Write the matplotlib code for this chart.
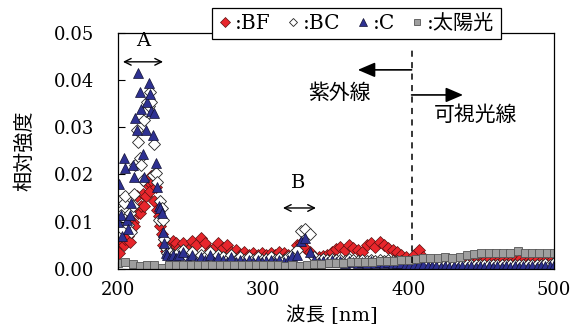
import numpy as np
import matplotlib
matplotlib.use("Agg")
import matplotlib.pyplot as plt
from matplotlib.lines import Line2D
from matplotlib.font_manager import FontProperties

# wavelength grids [nm]
x_peak = np.arange(200, 241, 1)
x_tail = np.arange(242, 501, 3)
x_sun = np.arange(200, 501, 5)

# relative intensity, units of 1e-3
bf_peak = [4.9, 3.4, 5.9, 7.7, 5.1, 6.4, 8.4, 6.9, 5.8, 9.0,
           9.9, 9.0, 12.4, 15.4, 11.9, 11.9, 13.4, 15.9, 13.3, 15.4,
           17.9, 18.4, 16.4, 19.7, 18.4, 14.4, 17.4, 12.4, 11.2, 9.0,
           7.4, 5.1, 6.4, 3.9, 4.4, 4.8, 3.4, 4.9, 5.9, 4.4, 5.4]
bc_peak = [6.9, 14.4, 11.4, 8.4, 13.9, 15.4, 10.9, 9.4, 11.9, 7.9,
           13.4, 15.9, 21.9, 29.4, 26.9, 23.4, 21.9, 18.9, 31.4, 33.4,
           35.4, 34.4, 37.4, 35.4, 19.9, 26.4, 20.4, 18.4, 10.4, 14.4,
           12.9, 10.4, 6.4, 4.4, 3.4, 2.9, 3.4, 2.4, 2.9, 2.4, 2.4]
c_peak = [9.9, 17.9, 11.4, 6.9, 23.4, 21.4, 10.4, 8.4, 11.4, 13.9,
          21.9, 19.4, 31.9, 29.4, 41.4, 37.4, 33.9, 24.4, 19.4, 29.4,
          35.4, 39.4, 36.9, 33.4, 28.4, 32.9, 22.4, 17.4, 13.4, 12.9,
          11.9, 7.9, 5.4, 3.4, 2.9, 1.9, 2.4, 1.4, 2.9, 1.9, 2.4]

bf_tail = [4.5, 5.5, 4.0, 6.0, 5.0, 6.5, 5.5, 4.0, 4.5, 5.5,
           4.5, 5.0, 3.5, 4.0, 3.0, 3.5, 3.0, 3.3, 3.0, 3.3,
           3.0, 3.3, 3.0, 3.5, 3.3, 3.0, 2.5, 5.0, 5.5, 4.5,
           3.5, 2.5, 2.5, 2.8, 3.0, 3.5, 4.3, 4.7, 4.0, 5.0,
           4.5, 4.0, 3.5, 5.0, 5.5, 4.7, 5.7, 5.0, 4.5, 4.0,
           3.5, 3.0, 2.5, 2.0, 3.0, 4.0, 2.5, 1.5, 1.3, 1.2,
           1.2, 1.0, 1.2, 1.0, 1.2, 1.0, 1.2, 1.4, 1.5, 1.3,
           1.6, 1.8, 1.6, 1.4, 1.7, 1.5, 1.4, 1.6, 1.9, 1.7,
           1.6, 1.9, 1.8, 1.6, 1.7, 1.5, 1.3]
bc_tail = [3.5, 4.0, 2.5, 3.5, 2.0, 3.0, 2.5, 3.5, 2.0, 3.0,
           2.5, 2.0, 3.0, 2.0, 2.5, 2.0, 2.5, 2.0, 2.5, 2.0,
           2.2, 2.5, 2.0, 2.3, 2.0, 2.5, 3.0, 4.0, 8.0, 8.5,
           7.5, 2.5, 2.0, 2.2, 1.8, 2.2, 1.8, 2.0, 1.7, 2.1,
           1.9, 1.7, 1.9, 1.7, 2.0, 1.7, 1.9, 1.7, 1.9, 1.7,
           1.6, 1.7, 1.4, 1.4, 1.3, 1.4, 1.2, 1.0, 0.9, 1.0,
           0.8, 0.9, 0.8, 0.9, 0.8, 0.9, 0.8, 0.9, 0.8, 0.9,
           0.8, 0.9, 0.8, 0.9, 0.8, 0.9, 0.8, 0.9, 0.8, 0.9,
           0.8, 0.9, 0.8, 0.9, 1.0, 0.9, 1.2]
c_tail = [3.0, 3.5, 2.0, 3.0, 1.5, 2.5, 2.0, 3.0, 1.5, 2.5,
          2.0, 1.5, 2.5, 1.5, 2.0, 1.5, 2.0, 1.5, 2.0, 1.5,
          1.7, 2.0, 1.5, 1.8, 1.5, 2.0, 2.8, 3.0, 6.0, 6.5,
          3.5, 2.0, 1.5, 1.7, 1.4, 1.8, 1.4, 1.6, 1.3, 1.7,
          1.5, 1.3, 1.5, 1.3, 1.6, 1.3, 1.5, 1.3, 1.5, 1.3,
          1.2, 1.3, 1.0, 1.0, 0.9, 1.0, 0.8, 0.7, 0.6, 0.7,
          0.5, 0.6, 0.5, 0.6, 0.5, 0.6, 0.5, 0.6, 0.5, 0.6,
          0.5, 0.6, 0.5, 0.6, 0.5, 0.6, 0.5, 0.6, 0.5, 0.6,
          0.5, 0.6, 0.5, 0.6, 0.7, 0.6, 0.9]

sun = [1.3, 1.5, 1.0, 0.7, 0.9, 0.9, 0.3, 0.9, 0.9, 0.9,
       0.9, 0.9, 0.8, 0.9, 0.9, 0.8, 0.9, 0.9, 0.8, 0.9,
       0.9, 0.9, 0.8, 0.7, 0.8, 0.7, 0.9, 1.0, 1.1, 1.2,
       1.3, 1.3, 1.4, 1.4, 1.5, 1.5, 1.6, 1.6, 1.7, 1.8,
       1.9, 2.2, 2.3, 2.4, 2.4, 2.5, 2.4, 2.5, 2.9, 3.2,
       3.3, 3.3, 3.3, 3.4, 3.3, 3.7, 3.3, 3.4, 3.3, 3.4,
       3.4]

x = np.concatenate([x_peak, x_tail])
bf = np.array(bf_peak + bf_tail) * 1e-3
bc = np.array(bc_peak + bc_tail) * 1e-3
c = np.array(c_peak + c_tail) * 1e-3
sun = np.array(sun) * 1e-3

serif = ["DejaVu Serif", "Noto Sans CJK JP"]
jp = ["Noto Sans CJK JP", "DejaVu Sans"]

RED = "#e8262c"
BLUE = "#2e3192"
GRAY = "#9e9e9e"

fig = plt.figure(figsize=(5.75, 3.27), dpi=100)
ax = fig.add_axes([0.2052, 0.1774, 0.7583, 0.7232])

ax.plot(x, bf, ls="none", marker="D", ms=5.8, mfc=RED, mec="#5a1010", mew=0.5)
ax.plot(x, bc, ls="none", marker="D", ms=5.8, mfc="white", mec="#222222", mew=0.6)
ax.plot(x, c, ls="none", marker="^", ms=7, mfc=BLUE, mec="#111133", mew=0.5)
ax.plot(x_sun, sun, ls="none", marker="s", ms=5.6, mfc=GRAY, mec="#555555", mew=0.6)

ax.set_xlim(200, 500)
ax.set_ylim(0, 0.05)
ax.set_xticks([200, 300, 400, 500])
ax.set_yticks([0, 0.01, 0.02, 0.03, 0.04, 0.05])
ax.set_yticklabels(["0.00", "0.01", "0.02", "0.03", "0.04", "0.05"])
ax.tick_params(direction="in", length=5, width=0.8, labelsize=13)
ax.tick_params(axis="y", pad=17)
ax.tick_params(axis="x", pad=9)
for lab in ax.get_xticklabels() + ax.get_yticklabels():
    lab.set_fontfamily(serif)
for s in ax.spines.values():
    s.set_linewidth(0.9)

ax.set_ylabel("相対強度", fontfamily=jp, fontsize=14.5)
ax.yaxis.set_label_coords(-0.19, 0.5)
ax.set_xlabel("波長 [nm]", fontfamily=serif, fontsize=14)
ax.xaxis.set_label_coords(0.49, -0.155)

# A / B ranges
ax.text(217.2, 0.0482, "A", fontfamily=serif, fontsize=14, ha="center", va="center")
ax.annotate("", xy=(203.4, 0.0438), xytext=(231, 0.0438),
            arrowprops=dict(arrowstyle="<->", lw=1, shrinkA=0, shrinkB=0, mutation_scale=12))
ax.text(323.9, 0.0182, "B", fontfamily=serif, fontsize=14, ha="center", va="center")
ax.annotate("", xy=(313.5, 0.0129), xytext=(336.2, 0.0129),
            arrowprops=dict(arrowstyle="<->", lw=1, shrinkA=0, shrinkB=0, mutation_scale=12))

# UV / visible boundary
ax.plot([402, 402], [0.0012, 0.0463], ls=(0, (4, 3.5)), color="black", lw=1.1)
ax.annotate("", xy=(365, 0.0421), xytext=(402, 0.0421),
            arrowprops=dict(arrowstyle="-|>,head_length=0.7,head_width=0.3", color="black",
                            lw=1.2, shrinkA=0, shrinkB=0, mutation_scale=15))
ax.annotate("", xy=(437.4, 0.0368), xytext=(402, 0.0368),
            arrowprops=dict(arrowstyle="-|>,head_length=0.7,head_width=0.3", color="black",
                            lw=1.2, shrinkA=0, shrinkB=0, mutation_scale=15))
ax.text(352.1, 0.0372, "紫外線", fontfamily=jp, fontsize=15, ha="center", va="center")
ax.text(446.3, 0.0326, "可視光線", fontfamily=jp, fontsize=15, ha="center", va="center")

handles = [
    Line2D([], [], ls="none", marker="D", ms=5, mfc=RED, mec="#5a1010", mew=0.5),
    Line2D([], [], ls="none", marker="D", ms=4.5, mfc="white", mec="#222222", mew=0.6),
    Line2D([], [], ls="none", marker="^", ms=5.5, mfc=BLUE, mec="#111133", mew=0.5),
    Line2D([], [], ls="none", marker="s", ms=5, mfc=GRAY, mec="#555555", mew=0.6),
]
labels = [":BF", ":BC", ":C", ":太陽光"]
leg = fig.legend(handles, labels, loc="upper left", bbox_to_anchor=(212 / 575, 1 - 8 / 327),
                 ncol=4, frameon=True, fancybox=False, edgecolor="black", framealpha=1,
                 borderpad=0.3, handlelength=0.7, handletextpad=0.15, columnspacing=0.75,
                 borderaxespad=0, prop=FontProperties(family=serif, size=14.5))
leg.get_frame().set_linewidth(0.9)

plt.savefig("out.png", dpi=100)
